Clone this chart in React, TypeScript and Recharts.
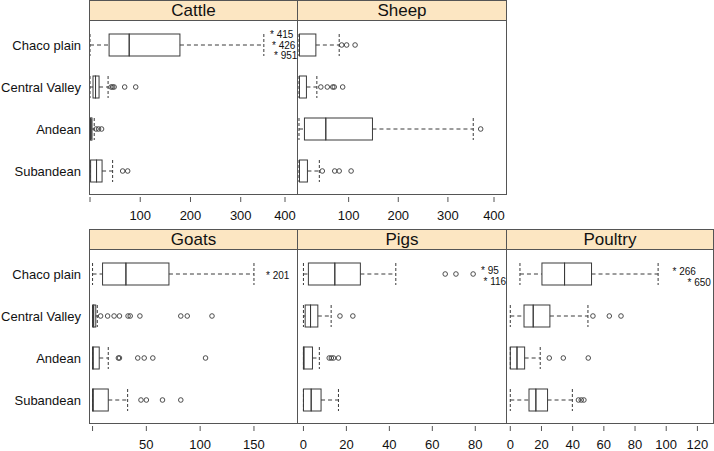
import React from 'react';
import { ComposedChart, Bar, XAxis, YAxis } from 'recharts';

// rows of every panel, top to bottom
const regions = ['Chaco plain', 'Central Valley', 'Andean', 'Subandean'];

// [lower whisker, Q1, median, Q3, upper whisker] per region
const cattleStats = [[0, 38, 78, 179, 346], [0, 6, 11, 18, 36], [0, 0.5, 2, 4, 8.4], [0, 1.2, 13, 24, 45]];
const cattleOutliers = [[], [42, 45, 48, 69, 91], [12, 17, 23], [65, 75]];
const cattleExtremes = [415, 426, 951];

const sheepStats = [[0, 1, 1, 34, 81], [0, 1, 1, 15, 36], [0, 11, 54, 148, 351], [0, 1, 1, 17, 41]];
const sheepOutliers = [[86, 96, 113], [44, 57, 68, 71, 88], [366], [47, 72, 81, 105]];

const goatStats = [[0, 9.3, 31, 71, 150], [0, 0, 1, 3, 4.4], [0, 0, 0.5, 6.2, 14.6], [0, 0, 0.5, 14.6, 32.6]];
const goatOutliers = [[], [7.5, 14, 20, 25, 33, 35, 44, 82, 88, 111], [24, 25, 42, 48, 56, 105], [45, 50, 65, 82]];
const goatExtremes = [201];

const pigStats = [[0, 2.3, 14.6, 26.5, 43], [0, 0.8, 3.3, 6.7, 12.9], [0, 0, 0.2, 4.2, 7.4], [0, 0, 3.6, 8.2, 16.3]];
const pigOutliers = [[66, 71, 79], [17, 23], [12, 13, 14, 16.3], []];
const pigExtremes = [95, 116];

const poultryStats = [[6.2, 20.3, 34.8, 52.1, 94.8], [0, 8.8, 14.7, 25.4, 49.8], [0, 0, 4.3, 9.2, 19.2], [0, 12, 16.4, 23.9, 39.8]];
const poultryOutliers = [[], [53, 63.5, 71], [25, 34, 50], [43.7, 45.5, 47.2]];
const poultryExtremes = [266, 650];

// axis ticks
const cattleTicks = [0, 100, 200, 300, 400];
const sheepTicks = [0, 100, 200, 300, 400];
const goatTicks = [0, 50, 100, 150];
const pigTicks = [0, 20, 40, 60, 80];
const poultryTicks = [0, 20, 40, 60, 80, 100, 120];

const LINE = '#3a3a3a';
const FRAME = '#555';
const STRIP = '#fce6c2';
const FONT = '"Liberation Sans", Arial, sans-serif';
const MAX_OUT = 10;
const outKeys = Array.from({ length: MAX_OUT }, (_, i) => `o${i}`);

// turn the summaries into stacked segments so the bar scale places every piece
const buildRows = (stats: number[][], outliers: number[][]) =>
  regions.map((name, i) => {
    const [lo, q1, med, q3, hi] = stats[i];
    const row: any = { name, base: lo, wLo: q1 - lo, bLo: med - q1, bHi: q3 - med, wHi: hi - q3, nOut: outliers[i].length };
    let prev = hi;
    outKeys.forEach((k, j) => {
      const v = outliers[i][j];
      row[k] = v === undefined ? 0 : v - prev;
      if (v !== undefined) prev = v;
    });
    return row;
  });

const Empty = () => <g />;

const WhiskerLow = (p: any) => {
  const { x, y, width, height } = p;
  const cy = y + height / 2;
  return (
    <g>
      <line x1={x} x2={x + width} y1={cy} y2={cy} stroke={LINE} strokeDasharray="4 3" />
      <line x1={x} x2={x} y1={y} y2={y + height} stroke={LINE} strokeDasharray="3 2" />
    </g>
  );
};

const WhiskerHigh = (p: any) => {
  const { x, y, width, height } = p;
  const cy = y + height / 2;
  return (
    <g>
      <line x1={x} x2={x + width} y1={cy} y2={cy} stroke={LINE} strokeDasharray="4 3" />
      <line x1={x + width} x2={x + width} y1={y} y2={y + height} stroke={LINE} strokeDasharray="3 2" />
    </g>
  );
};

const BoxHalf = (p: any) => (
  <rect x={p.x} y={p.y} width={Math.max(p.width, 0)} height={p.height} fill="none" stroke={LINE} strokeWidth={1} />
);

const outlierShape = (j: number) => (p: any) =>
  j < p.payload.nOut ? (
    <circle cx={p.x + p.width} cy={p.y + p.height / 2} r={2.3} fill="none" stroke={LINE} strokeWidth={0.9} />
  ) : (
    <g />
  );

const makeTick = (hideZero: boolean) => (props: any) => {
  const { x, y, payload } = props;
  const v = payload.value;
  return (
    <g>
      <line x1={x} x2={x} y1={y + 3} y2={y + 8} stroke={FRAME} />
      {!(hideZero && v === 0) && (
        <text x={x} y={y + 26} textAnchor="middle" fontSize={13} fill="#111">
          {v}
        </text>
      )}
    </g>
  );
};

// plain text so long region names stay on one line
const RowTick = (props: any) => (
  <text x={props.x} y={props.y} dy="0.355em" textAnchor="end" fontSize={13} fill="#111">
    {props.payload.value}
  </text>
);

interface PanelProps {
  title: string;
  left: number;
  top: number;
  width: number;
  showLabels: boolean;
  stats: number[][];
  outliers: number[][];
  domain: [number, number];
  ticks: number[];
  hideZero: boolean;
}

const Panel = ({ title, left, top, width, showLabels, stats, outliers, domain, ticks, hideZero }: PanelProps) => {
  const axisW = showLabels ? 89 : 0;
  const rows = buildRows(stats, outliers);
  return (
    <>
      <div style={{ position: 'absolute', left, top: top + 20 }}>
        <ComposedChart
          width={axisW + width}
          height={205}
          data={rows}
          layout="vertical"
          barSize={22}
          margin={{ top: 0, right: 0, bottom: 0, left: 0 }}
        >
          <XAxis
            type="number"
            domain={domain}
            allowDataOverflow
            ticks={ticks}
            height={31}
            axisLine={false}
            tickLine={false}
            tickSize={0}
            tickMargin={0}
            tick={makeTick(hideZero)}
          />
          <YAxis
            type="category"
            dataKey="name"
            width={axisW}
            hide={!showLabels}
            interval={0}
            axisLine={false}
            tickLine={false}
            tickSize={0}
            tickMargin={8}
            padding={{ top: 4, bottom: 2 }}
            tick={RowTick}
          />
          <Bar dataKey="base" stackId="s" shape={Empty} isAnimationActive={false} />
          <Bar dataKey="wLo" stackId="s" shape={WhiskerLow} isAnimationActive={false} />
          <Bar dataKey="bLo" stackId="s" shape={BoxHalf} isAnimationActive={false} />
          <Bar dataKey="bHi" stackId="s" shape={BoxHalf} isAnimationActive={false} />
          <Bar dataKey="wHi" stackId="s" shape={WhiskerHigh} isAnimationActive={false} />
          {outKeys.map((k, j) => (
            <Bar key={k} dataKey={k} stackId="s" shape={outlierShape(j)} isAnimationActive={false} />
          ))}
        </ComposedChart>
      </div>
      <div
        style={{
          position: 'absolute',
          left: left + axisW,
          top,
          width: width + 1,
          height: 195,
          border: `1px solid ${FRAME}`,
          boxSizing: 'border-box',
          pointerEvents: 'none',
        }}
      >
        <div
          style={{
            height: 20,
            lineHeight: '19px',
            background: STRIP,
            borderBottom: `1px solid ${FRAME}`,
            boxSizing: 'border-box',
            textAlign: 'center',
            fontSize: 17,
            color: '#111',
          }}
        >
          {title}
        </div>
      </div>
    </>
  );
};

// labels for values far beyond the axis, written at the panel edge
const Extremes = ({ values, xs, ys }: { values: number[]; xs: number[]; ys: number[] }) => (
  <>
    {values.map((v, i) => (
      <text key={v} x={xs[i]} y={ys[i]} fontSize={10} fill="#111">
        {'* ' + v}
      </text>
    ))}
  </>
);

export default function App() {
  return (
    <div
      style={{
        position: 'absolute',
        left: 0,
        top: 0,
        width: 714,
        height: 451,
        overflow: 'hidden',
        background: '#fff',
        fontFamily: FONT,
      }}
    >
      <Panel title="Cattle" left={0} top={0} width={208} showLabels stats={cattleStats} outliers={cattleOutliers} domain={[-2, 412]} ticks={cattleTicks} hideZero />
      <Panel title="Sheep" left={297} top={0} width={209} showLabels={false} stats={sheepStats} outliers={sheepOutliers} domain={[-4, 417]} ticks={sheepTicks} hideZero />
      <Panel title="Goats" left={0} top={229} width={208} showLabels stats={goatStats} outliers={goatOutliers} domain={[-3.3, 190]} ticks={goatTicks} hideZero />
      <Panel title="Pigs" left={297} top={229} width={209} showLabels={false} stats={pigStats} outliers={pigOutliers} domain={[-3, 94.3]} ticks={pigTicks} hideZero={false} />
      <Panel title="Poultry" left={506} top={229} width={207} showLabels={false} stats={poultryStats} outliers={poultryOutliers} domain={[-2.75, 130]} ticks={poultryTicks} hideZero={false} />
      <svg width={714} height={451} style={{ position: 'absolute', left: 0, top: 0, pointerEvents: 'none', fontFamily: FONT }}>
        <Extremes values={cattleExtremes} xs={[270, 272, 274]} ys={[38, 49, 59]} />
        <Extremes values={goatExtremes} xs={[266]} ys={[279]} />
        <Extremes values={pigExtremes} xs={[481, 483.5]} ys={[274, 285]} />
        <Extremes values={poultryExtremes} xs={[672.5, 687.5]} ys={[275, 286]} />
      </svg>
    </div>
  );
}
